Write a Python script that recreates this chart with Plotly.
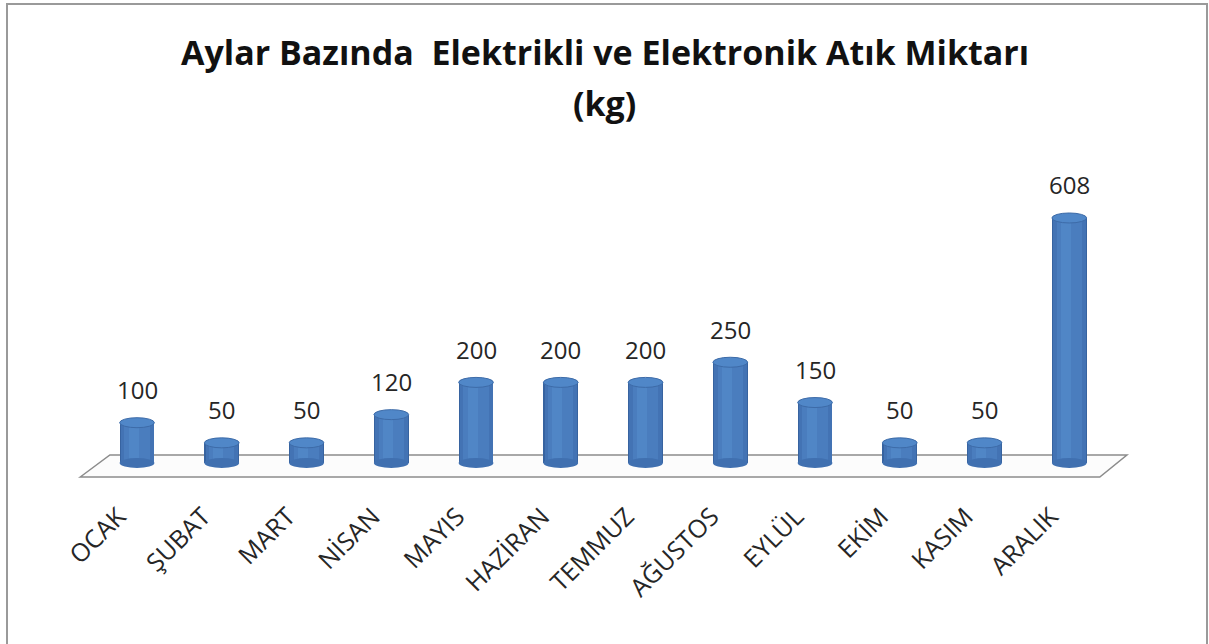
import plotly.graph_objects as go

months = ["OCAK", "ŞUBAT", "MART", "NİSAN", "MAYIS", "HAZİRAN", "TEMMUZ",
          "AĞUSTOS", "EYLÜL", "EKİM", "KASIM", "ARALIK"]
values = [100, 50, 50, 120, 200, 200, 200, 250, 150, 50, 50, 608]
title_line1 = "Aylar Bazında  Elektrikli ve Elektronik Atık Miktarı"
title_line2 = "(kg)"

xs = list(range(len(months)))

W, H = 1209, 644
M_L, M_R, M_T, M_B = 76, 77, 150, 154
plot_h = H - M_T - M_B

fig = go.Figure()

# cylinder body: layered bars for subtle shading
layers = [
    (0.41, -0.205, "#3763A0"),
    (0.385, -0.19, "#4373B4"),
    (0.30, -0.15, "#4A7DBE"),
    (0.12, -0.10, "#5086C6"),
]
for w, off, col in layers:
    fig.add_trace(go.Bar(
        x=xs, y=values, base=0, width=w, offset=off,
        marker=dict(color=col, line=dict(width=0)),
        hoverinfo="skip", showlegend=False,
    ))

shapes = []
# floor (decorative plane)
shapes.append(dict(
    type="path", xref="x", yref="y", layer="below",
    path="M -0.67,-34.7 L -0.32,19.9 L 11.68,19.9 L 11.36,-34.7 Z",
    line=dict(color="#8c8c8c", width=1.5), fillcolor="rgba(252,252,252,1)",
))
for i, v in zip(xs, values):
    # bottom rounded end
    shapes.append(dict(
        type="circle", xref="x", yref="y", ysizemode="pixel", yanchor=0,
        x0=i - 0.205, x1=i + 0.205, y0=-5, y1=5,
        fillcolor="#4070B0", line=dict(width=0), layer="above",
    ))
    # top cap
    shapes.append(dict(
        type="circle", xref="x", yref="y", ysizemode="pixel", yanchor=v,
        x0=i - 0.205, x1=i + 0.205, y0=-5, y1=5,
        fillcolor="#5087C8", line=dict(color="#3D6BA8", width=1), layer="above",
    ))

annotations = []
for i, v in zip(xs, values):
    annotations.append(dict(
        x=i, y=v, xref="x", yref="y", text=str(v), showarrow=False,
        yshift=33, font=dict(family="Open Sans", size=24, color="#262626"),
    ))


def ypaper(py):
    return (H - M_B - py) / plot_h


def xpaper(px):
    return (px - M_L) / (W - M_L - M_R)


annotations.append(dict(
    x=xpaper(604.5), y=ypaper(52), xref="paper", yref="paper", xanchor="center", yanchor="middle",
    text=title_line1, showarrow=False,
    font=dict(family="Open Sans", size=34, color="#111111", weight="bold"),
))
annotations.append(dict(
    x=xpaper(604.5), y=ypaper(103), xref="paper", yref="paper", xanchor="center", yanchor="middle",
    text=title_line2, showarrow=False,
    font=dict(family="Open Sans", size=34, color="#111111", weight="bold"),
))

# outer chart border
shapes.append(dict(type="rect", xref="paper", yref="paper",
                   x0=xpaper(7), x1=xpaper(1207), y0=ypaper(660), y1=ypaper(4),
                   line=dict(color="#9a9a9a", width=2), layer="below"))

label_shift = -0.22  # rotated labels sit slightly left of each bar
fig.update_layout(
    template="none",
    width=W, height=H,
    margin=dict(l=M_L, r=M_R, t=M_T, b=M_B, autoexpand=False),
    paper_bgcolor="white", plot_bgcolor="rgba(0,0,0,0)",
    barmode="overlay", bargap=0,
    shapes=shapes,
    annotations=annotations,
    xaxis=dict(
        range=[-0.72, 11.74], tickvals=[x + label_shift for x in xs], ticktext=months,
        tickangle=-45, automargin=False, ticklabelstandoff=6,
        showgrid=False, zeroline=False, showline=False, ticks="",
        tickfont=dict(family="Open Sans", size=25, color="#262626"),
    ),
    yaxis=dict(range=[-67, 776.7], visible=False, showgrid=False, zeroline=False,
               automargin=False),
)

fig.write_html("out.html", config={"displayModeBar": False},
               post_script="document.body.style.margin='0';document.body.style.overflow='hidden';")
